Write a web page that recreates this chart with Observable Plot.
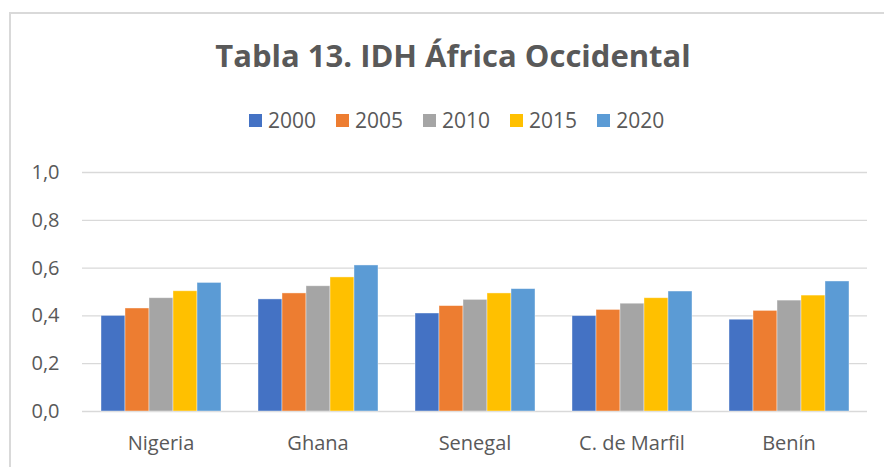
<!DOCTYPE html>
<html>
<head>
<meta charset="utf-8">
<script src="https://cdn.jsdelivr.net/npm/d3@7"></script>
<script src="https://cdn.jsdelivr.net/npm/@observablehq/plot@0.6"></script>
<style>
  html, body { margin: 0; padding: 0; background: #fff; }
  body { width: 884px; height: 467px; overflow: hidden; position: relative; font-family: "Open Sans", sans-serif; color: #595959; }
  #frame { position: absolute; left: 9px; top: 12px; width: 900px; height: 500px; border-left: 2px solid #d9d9d9; border-top: 2px solid #d9d9d9; }
  #title { position: absolute; left: 0; width: 906px; top: 35px; text-align: center; font-weight: 700; font-size: 31px; line-height: 40px; white-space: nowrap; }
  #legend { position: absolute; left: 249px; top: 106px; display: flex; gap: 20px; font-size: 21px; line-height: 28px; }
  #legend .item { display: flex; align-items: center; gap: 6px; }
  #legend .sw { width: 13px; height: 13px; display: inline-block; }
  #chart { position: absolute; left: 0; top: 0; }
</style>
</head>
<body>
<div id="frame"></div>
<div id="title">Tabla 13. IDH África Occidental</div>
<div id="legend"></div>
<div id="chart"></div>
<script>
const countries = ["Nigeria", "Ghana", "Senegal", "C. de Marfil", "Benín"];
const years = ["2000", "2005", "2010", "2015", "2020"];
const colors = ["#4472C4", "#ED7D31", "#A5A5A5", "#FFC000", "#5B9BD5"];
const idh2000 = [0.400, 0.469, 0.410, 0.399, 0.384];
const idh2005 = [0.431, 0.494, 0.441, 0.425, 0.421];
const idh2010 = [0.474, 0.524, 0.467, 0.451, 0.464];
const idh2015 = [0.503, 0.561, 0.494, 0.474, 0.485];
const idh2020 = [0.538, 0.611, 0.512, 0.502, 0.544];
const yTicks = [0, 0.2, 0.4, 0.6, 0.8, 1.0];

const series = [idh2000, idh2005, idh2010, idh2015, idh2020];
const data = [];
countries.forEach((c, i) => {
  years.forEach((y, j) => data.push({country: c, year: y, value: series[j][i]}));
});

const legend = document.getElementById("legend");
years.forEach((y, j) => {
  const it = document.createElement("div");
  it.className = "item";
  it.innerHTML = `<span class="sw" style="background:${colors[j]}"></span><span>${y}</span>`;
  legend.appendChild(it);
});

const plot = Plot.plot({
  width: 884,
  height: 467,
  marginTop: 172,
  marginBottom: 56,
  marginLeft: 80,
  marginRight: 16,
  style: {fontFamily: "Open Sans, sans-serif", fontSize: "20px", color: "#595959", background: "transparent"},
  fx: {domain: countries, padding: 0, label: null},
  x: {domain: years, paddingInner: 0, paddingOuter: 0.75, axis: null},
  y: {domain: [0, 1], label: null},
  color: {domain: years, range: colors},
  marks: [
    Plot.gridY(yTicks, {stroke: "#d9d9d9", strokeOpacity: 1, strokeWidth: 1.3}),
    Plot.barY(data, {fx: "country", x: "year", y: "value", fill: "year", stroke: "white", strokeOpacity: 0.5, strokeWidth: 0.8}),
    Plot.axisY({ticks: yTicks, tickSize: 0, tickPadding: 23, tickFormat: d => d.toFixed(1).replace(".", ","), label: null, fontSize: 20}),
    Plot.axisFx({anchor: "bottom", tickSize: 0, tickPadding: 24, label: null, fontSize: 20})
  ]
});
document.getElementById("chart").appendChild(plot);
</script>
</body>
</html>
